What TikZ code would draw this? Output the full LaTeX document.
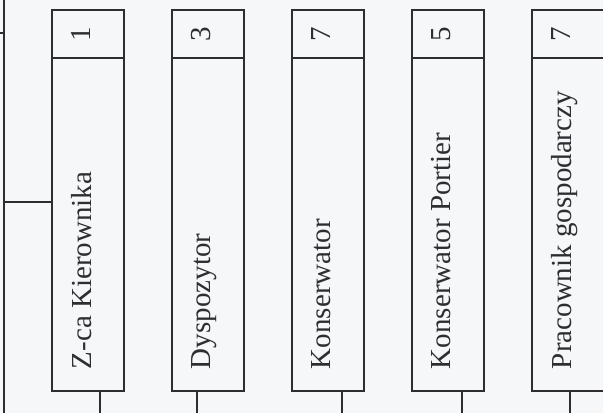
\documentclass[tikz,border=0pt]{standalone}
\usepackage{fontspec}
\setmainfont{Liberation Serif}
\usepackage{xcolor}
\usepackage{tikz}
\usetikzlibrary{positioning}

\definecolor{paper}{RGB}{246,247,249}
\definecolor{ink}{RGB}{45,45,50}

\newcommand{\vname}[1]{\rotatebox{90}{\makebox[144.5pt][l]{\rule[-7pt]{0pt}{14pt}#1}}}
\newcommand{\vnum}[1]{\rotatebox{90}{\makebox[20pt][c]{\rule[-7pt]{0pt}{14pt}#1}}}

\begin{document}
\begin{tikzpicture}[
    node distance=24pt,
    every node/.style={font=\fontsize{14.5pt}{17pt}\selectfont, text=ink},
    namebox/.style={rectangle, draw=ink, line width=0.9pt, minimum width=36pt, minimum height=166.5pt, inner sep=0pt, outer sep=0pt},
    numbox/.style={namebox, minimum height=24pt},
    link/.style={draw=ink, line width=0.9pt}
]
    \fill[paper] (0,0) rectangle (301.5pt,206.5pt);
    \useasboundingbox (0,0) rectangle (301.5pt,206.5pt);
    \coordinate (base) at (0,0);

    \node[namebox] (name1) at (44pt,94.25pt) {\vname{Z-ca Kierownika}};
    \node[namebox, right=of name1] (name2) {\vname{Dyspozytor}};
    \node[namebox, right=of name2] (name3) {\vname{Konserwator}};
    \node[namebox, right=of name3] (name4) {\vname{Konserwator Portier}};
    \node[namebox, right=of name4] (name5) {\vname{Pracownik gospodarczy}};

    \node[numbox, above=0pt of name1] (num1) {\vnum{1}};
    \node[numbox, above=0pt of name2] (num2) {\vnum{3}};
    \node[numbox, above=0pt of name3] (num3) {\vnum{7}};
    \node[numbox, above=0pt of name4] (num4) {\vnum{5}};
    \node[numbox, above=0pt of name5] (num5) {\vnum{7}};

    % left trunk and its branch to the first box
    \coordinate (top) at (2pt,206.5pt);
    \coordinate (bottom) at (2pt,0);
    \coordinate (feed) at (0,190pt);
    \coordinate (feedend) at (2pt,190pt);
    \coordinate (trunk) at (2pt,105.5pt);
    \draw[link] (top) -- (bottom);
    \draw[link] (feed) -- (feedend);
    \draw[link] (trunk) -- (trunk -| name1.west);

    % stubs under the boxes
    \coordinate (foot1) at ([xshift=6pt]name1.south |- base);
    \coordinate (foot2) at ([xshift=-5.5pt]name2.south |- base);
    \coordinate (foot3) at ([xshift=7pt]name3.south |- base);
    \coordinate (foot4) at ([xshift=7pt]name4.south |- base);
    \coordinate (foot5) at ([xshift=1pt]name5.south |- base);
    \draw[link] ([xshift=6pt]name1.south) -- (foot1);
    \draw[link] ([xshift=-5.5pt]name2.south) -- (foot2);
    \draw[link] ([xshift=7pt]name3.south) -- (foot3);
    \draw[link] ([xshift=7pt]name4.south) -- (foot4);
    \draw[link] ([xshift=1pt]name5.south) -- (foot5);
\end{tikzpicture}
\end{document}
